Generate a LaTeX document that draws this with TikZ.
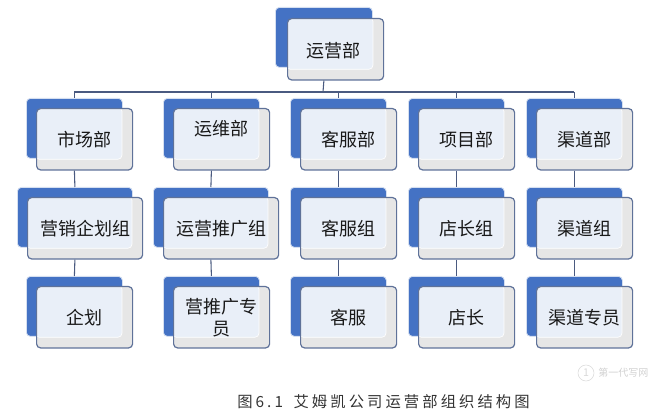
\documentclass[tikz,border=0pt]{standalone}
\usepackage{fontspec}
\setmainfont{Noto Sans CJK SC}
\newfontfamily\capfont[LetterSpace=20]{Noto Sans CJK SC}
\usetikzlibrary{calc}
\definecolor{backblue}{HTML}{4472C4}
\definecolor{backedge}{HTML}{D5DFF0}
\definecolor{frontedge}{HTML}{5F7299}
\definecolor{frontgray}{HTML}{E6E6E6}
\definecolor{faceblue}{HTML}{E9EFF8}
\definecolor{linedark}{HTML}{4A5A80}
\tikzset{
    backbox/.style={draw=backedge, fill=backblue, rounded corners=3pt, line width=0.6pt,
        anchor=north west, inner sep=0pt, minimum height=45pt},
    frontbox/.style={draw=frontedge, fill=frontgray, rounded corners=3pt, line width=0.9pt,
        anchor=north west, inner sep=0pt, minimum height=46pt,
        path picture={\draw[draw=white, fill=faceblue, rounded corners=3pt, line width=0.5pt]
            ([xshift=-1pt, yshift=1pt]path picture bounding box.north west) rectangle
            ([xshift=-8pt, yshift=8pt]path picture bounding box.south east);}},
    boxtext/.style={font=\fontsize{13.5pt}{16.5pt}\selectfont, align=center, inner sep=0pt, color=black!90},
    connector/.style={draw=linedark, line width=0.8pt},
    busline/.style={draw=linedark, line width=1.4pt},
}
\begin{document}
\begin{tikzpicture}[x=0.75pt, y=-0.75pt]
    \useasboundingbox (0,0) rectangle (664,409);

    % Top box
    \node[backbox, minimum width=72.75pt] (yy) at (275,7) {};
    \node[frontbox, minimum width=72pt] (yyf) at (287,18) {};
    \node[boxtext] (yyt) at ([xshift=-1.5pt, yshift=-1pt]yyf.center) {运营部};

    % Department boxes
    \foreach \n/\x/\y/\w/\dy/\t in {
        sc1/26/98/96/0/市场部, sc2/17/187/115/0/营销企划组, sc3/26/276/96/0/企划,
        yw1/163/98/96/8/运维部, yw2/153/187/115/0/运营推广组, yw3/163/276/96/0/{营推广专\\员},
        kf1/290/98/96/0/客服部, kf2/290/187/96/0/客服组, kf3/290/276/96/0/客服,
        xm1/408/98/96/0/项目部, xm2/408/187/96/0/店长组, xm3/408/276/96/0/店长,
        qd1/526/98/96/0/渠道部, qd2/526/187/96/0/渠道组, qd3/526/276/96/0/渠道专员}
    {
        \node[backbox, minimum width=\w*0.75pt] (\n) at (\x,\y) {};
        \node[frontbox, minimum width=\w*0.75pt] (\n f) at (\x+10,\y+10) {};
        \node[boxtext] (\n t) at ([yshift=\dy pt]\n f.center) {\t};
    }

    % Connectors
    \coordinate (bus) at (323,92);
    \draw[connector] (yyf.south -| yy.south) -- (bus);
    \draw[busline] (sc1.north |- bus) -- (qd1.north |- bus);
    \foreach \c in {sc, yw, kf, xm, qd} {
        \draw[connector] (\c1.north |- bus) -- (\c1.north);
        \draw[connector] (\c1f.south -| \c1.south) -- (\c2.north);
        \draw[connector] (\c2f.south -| \c2.south) -- (\c3.north);
    }

    % Caption and watermark
    \node[anchor=west, inner sep=0pt, font=\capfont\fontsize{11.5pt}{13pt}\selectfont, color=black!80]
        (caption) at (237,402) {图6.1 \hspace{3pt}艾姆凯公司运营部组织结构图};
    \node[circle, draw=black!10, minimum size=12pt, inner sep=0pt, font=\fontsize{8pt}{8pt}\selectfont, color=black!15]
        (wmark) at (586,373) {1};
    \node[anchor=west, inner sep=0pt, font=\fontsize{7.5pt}{8pt}\selectfont, color=black!18]
        (wmtext) at (598,373) {第一代写网};
\end{tikzpicture}
\end{document}
